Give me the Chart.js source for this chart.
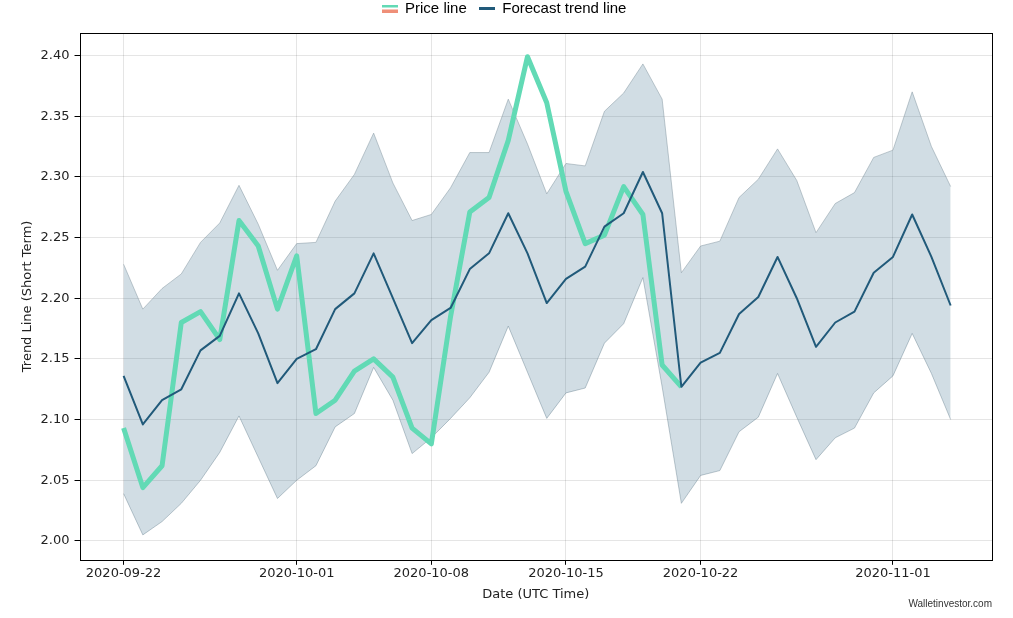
<!DOCTYPE html>
<html>
<head>
<meta charset="utf-8">
<title>Trend Line (Short Term)</title>
<script src="https://cdn.jsdelivr.net/npm/chart.js"></script>
<style>
  html, body { margin: 0; padding: 0; background: #fff; }
  canvas { display: block; }
</style>
</head>
<body>
<canvas id="myChart" width="1013" height="618"></canvas>
<script>
// days counted from 2020-09-22
const forecastDays = [0, 1, 2, 3, 4, 5, 6, 7, 8, 9, 10, 11, 12, 13, 14, 15, 16, 17, 18, 19, 20, 21,
    22, 23, 24, 25, 26, 27, 28, 29, 30, 31, 32, 33, 34, 35, 36, 37, 38, 39, 40, 41, 42, 43];

const priceLine = [2.093, 2.044, 2.062, 2.180, 2.189, 2.166, 2.264, 2.243, 2.191, 2.235,
    2.105, 2.116, 2.140, 2.150, 2.135, 2.093, 2.080, 2.185, 2.271, 2.283,
    2.330, 2.399, 2.361, 2.288, 2.245, 2.252, 2.292, 2.269, 2.145, 2.127];

const forecastLine = [2.136, 2.096, 2.116, 2.125, 2.157, 2.169, 2.204, 2.171, 2.130, 2.150,
    2.158, 2.191, 2.204, 2.237, 2.200, 2.163, 2.182, 2.192, 2.224, 2.237,
    2.270, 2.237, 2.196, 2.216, 2.226, 2.259, 2.270, 2.304, 2.270, 2.127,
    2.147, 2.155, 2.187, 2.201, 2.234, 2.200, 2.160, 2.180, 2.189, 2.221,
    2.234, 2.269, 2.234, 2.194];

const upperBand = [2.228, 2.191, 2.208, 2.220, 2.246, 2.262, 2.293, 2.261, 2.223, 2.245,
    2.246, 2.280, 2.302, 2.336, 2.295, 2.264, 2.269, 2.291, 2.320, 2.320,
    2.364, 2.327, 2.286, 2.311, 2.309, 2.354, 2.369, 2.393, 2.364, 2.221,
    2.243, 2.247, 2.283, 2.298, 2.323, 2.297, 2.254, 2.278, 2.287, 2.316,
    2.322, 2.370, 2.325, 2.292];

const lowerBand = [2.039, 2.005, 2.016, 2.031, 2.050, 2.073, 2.103, 2.069, 2.035, 2.050,
    2.062, 2.094, 2.105, 2.143, 2.116, 2.072, 2.085, 2.101, 2.118, 2.139,
    2.177, 2.139, 2.101, 2.122, 2.126, 2.163, 2.179, 2.217, 2.127, 2.031,
    2.054, 2.058, 2.090, 2.102, 2.138, 2.102, 2.067, 2.085, 2.093, 2.122,
    2.136, 2.171, 2.138, 2.100];

const xTickDays = [0, 9, 16, 23, 30, 40];
const xTickLabels = ['2020-09-22', '2020-10-01', '2020-10-08', '2020-10-15', '2020-10-22', '2020-11-01'];
const yTicks = [2.00, 2.05, 2.10, 2.15, 2.20, 2.25, 2.30, 2.35, 2.40];

const GREEN = '#62dab5';
const SALMON = '#ef8f78';
const BLUE = '#215a7a';

function toPoints(values) {
    return values.map(function (v, i) { return { x: forecastDays[i], y: v }; });
}

// little legend icons
function makeIcon(colors) {
    var c = document.createElement('canvas');
    c.width = 16;
    c.height = colors.length * 5 - 2;
    var g = c.getContext('2d');
    colors.forEach(function (col, i) {
        g.fillStyle = col;
        g.fillRect(0, i * 5, 16, 3);
    });
    return c;
}
const priceIcon = makeIcon([GREEN, SALMON]);
const forecastIcon = makeIcon([BLUE]);

const frame = {
    id: 'frame',
    afterInit: function (chart) {
        // a bit more room under the legend
        var legend = chart.legend;
        if (legend) {
            var fit = legend.fit;
            legend.fit = function () {
                fit.call(this);
                this.height += 7;
            };
        }
    },
    afterDraw: function (chart) {
        var a = chart.chartArea, ctx = chart.ctx;
        ctx.save();
        ctx.strokeStyle = '#000';
        ctx.lineWidth = 1;
        ctx.strokeRect(Math.round(a.left) + 0.5, Math.round(a.top) + 0.5,
            Math.round(a.right - a.left), Math.round(a.bottom - a.top));
        ctx.font = '10px "Liberation Sans", Arial, sans-serif';
        ctx.fillStyle = '#333';
        ctx.textAlign = 'right';
        ctx.textBaseline = 'middle';
        ctx.fillText('Walletinvestor.com', a.right, 604);
        ctx.restore();
    }
};

const tickFont = { family: '"DejaVu Sans", sans-serif', size: 13 };

new Chart(document.getElementById('myChart'), {
    type: 'line',
    data: {
        datasets: [{
            label: 'lower',
            data: toPoints(lowerBand),
            borderColor: 'rgba(120,140,150,0.45)',
            borderWidth: 1,
            pointRadius: 0,
            fill: false,
            order: 3
        }, {
            label: 'upper',
            data: toPoints(upperBand),
            borderColor: 'rgba(120,140,150,0.45)',
            borderWidth: 1,
            pointRadius: 0,
            backgroundColor: 'rgba(25,85,120,0.2)',
            fill: 0,
            order: 2
        }, {
            label: 'Price line',
            data: toPoints(priceLine),
            borderColor: GREEN,
            borderWidth: 5,
            borderJoinStyle: 'round',
            pointRadius: 0,
            fill: false,
            order: 1
        }, {
            label: 'Forecast trend line',
            data: toPoints(forecastLine),
            borderColor: BLUE,
            borderWidth: 2,
            borderJoinStyle: 'round',
            pointRadius: 0,
            fill: false,
            order: 0
        }]
    },
    options: {
        responsive: false,
        devicePixelRatio: 1,
        animation: false,
        layout: {
            padding: { left: 16, right: 21, top: -11, bottom: 12 }
        },
        plugins: {
            legend: {
                display: true,
                position: 'top',
                labels: {
                    usePointStyle: true,
                    boxWidth: 16,
                    pointStyleWidth: 16,
                    padding: 12,
                    color: '#333',
                    font: { family: '"Liberation Sans", Arial, sans-serif', size: 15 },
                    generateLabels: function () {
                        return [
                            { text: 'Price line', pointStyle: priceIcon, fillStyle: GREEN, strokeStyle: GREEN, lineWidth: 0, datasetIndex: 2 },
                            { text: 'Forecast trend line', pointStyle: forecastIcon, fillStyle: BLUE, strokeStyle: BLUE, lineWidth: 0, datasetIndex: 3 }
                        ];
                    }
                }
            },
            tooltip: { enabled: false }
        },
        scales: {
            x: {
                type: 'linear',
                min: -2.29,
                max: 45.15,
                afterBuildTicks: function (axis) {
                    axis.ticks = xTickDays.map(function (d) { return { value: d }; });
                },
                ticks: {
                    autoSkip: false,
                    maxRotation: 0,
                    color: '#222',
                    font: tickFont,
                    padding: 1,
                    callback: function (value) {
                        var i = xTickDays.indexOf(value);
                        return i >= 0 ? xTickLabels[i] : '';
                    }
                },
                grid: { color: 'rgba(0,0,0,0.1)', tickColor: '#000', tickLength: 5 },
                border: { display: false },
                title: { display: true, text: 'Date (UTC Time)', color: '#222', font: tickFont, padding: { top: 4, bottom: 4 } }
            },
            y: {
                min: 1.9845,
                max: 2.4185,
                afterBuildTicks: function (axis) {
                    axis.ticks = yTicks.map(function (v) { return { value: v }; });
                },
                ticks: {
                    color: '#222',
                    font: tickFont,
                    padding: 5,
                    callback: function (value) { return value.toFixed(2); }
                },
                grid: { color: 'rgba(0,0,0,0.1)', tickColor: '#000', tickLength: 5 },
                border: { display: false },
                title: { display: true, text: 'Trend Line (Short Term)', color: '#222', font: tickFont, padding: { top: 4, bottom: 0 } }
            }
        }
    },
    plugins: [frame]
});
</script>
</body>
</html>
